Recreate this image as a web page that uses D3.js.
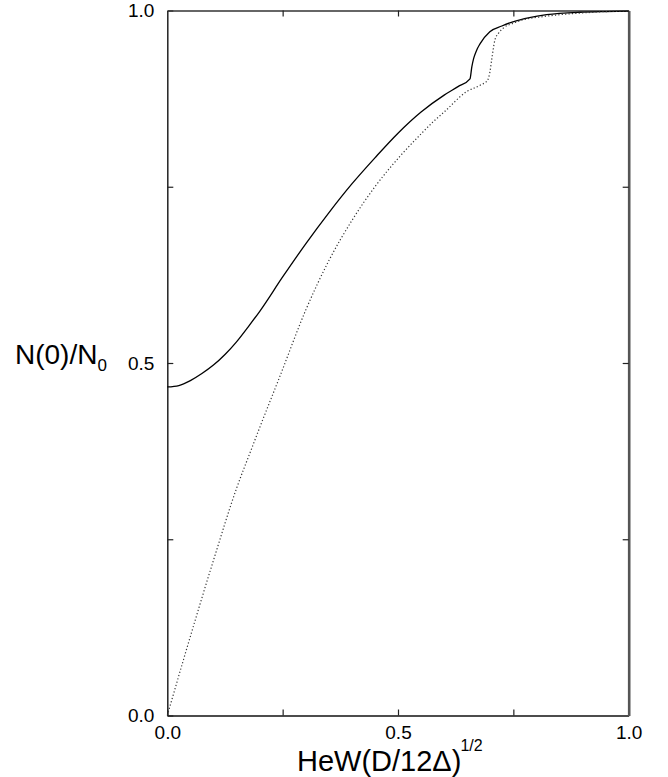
<!DOCTYPE html>
<html>
<head>
<meta charset="utf-8">
<script src="https://cdn.jsdelivr.net/npm/d3@7"></script>
<style>
  html, body { margin: 0; padding: 0; background: #fff; }
  svg { display: block; }
  text { font-family: "Liberation Sans", Arial, Helvetica, sans-serif; fill: #000; }
</style>
</head>
<body>
<script>
// Density of states at zero energy vs. scaled width — two curves.
const solidX = [0.000, 0.025, 0.050, 0.075, 0.100, 0.125, 0.150, 0.175, 0.200, 0.250, 0.300, 0.350, 0.400, 0.450, 0.500, 0.550, 0.600, 0.630, 0.656, 0.660, 0.664, 0.670, 0.678, 0.699, 0.725, 0.749, 0.785, 0.822, 0.894, 0.950, 1.000];
const solidY = [0.466, 0.468, 0.475, 0.485, 0.497, 0.512, 0.530, 0.551, 0.573, 0.622, 0.669, 0.713, 0.754, 0.791, 0.826, 0.856, 0.880, 0.892, 0.903, 0.920, 0.932, 0.943, 0.953, 0.970, 0.978, 0.984, 0.990, 0.994, 0.9975, 0.9985, 0.999];

const dottedX = [0.000, 0.035, 0.070, 0.100, 0.150, 0.183, 0.200, 0.244, 0.300, 0.350, 0.400, 0.450, 0.504, 0.550, 0.576, 0.600, 0.649, 0.678, 0.694, 0.699, 0.703, 0.710, 0.718, 0.728, 0.750, 0.772, 0.810, 0.858, 0.900, 0.952, 1.000];
const dottedY = [0.000, 0.079, 0.156, 0.220, 0.322, 0.379, 0.408, 0.481, 0.575, 0.645, 0.702, 0.750, 0.793, 0.825, 0.842, 0.856, 0.885, 0.894, 0.901, 0.912, 0.930, 0.958, 0.968, 0.975, 0.982, 0.987, 0.991, 0.9945, 0.9965, 0.9985, 0.999];

const tickValues = [0, 0.25, 0.5, 0.75, 1];
const tickLabels = ["0.0", "", "0.5", "", "1.0"];

const W = 668, H = 777;
const plot = { left: 167.3, right: 628.7, top: 10.5, bottom: 715.5 };

const svg = d3.select("body").append("svg")
  .attr("width", W).attr("height", H);

const x = d3.scaleLinear().domain([0, 1]).range([plot.left, plot.right]);
const y = d3.scaleLinear().domain([0, 1]).range([plot.bottom, plot.top]);

const fmt = v => tickLabels[tickValues.indexOf(v)];

// Axes: ticks point inward on all four sides
const gBottom = svg.append("g").attr("transform", `translate(0,${plot.bottom})`)
  .call(d3.axisBottom(x).tickValues(tickValues).tickFormat(fmt)
    .tickSizeInner(-6).tickSizeOuter(0).tickPadding(10.5));
const gLeft = svg.append("g").attr("transform", `translate(${plot.left},0)`)
  .call(d3.axisLeft(y).tickValues(tickValues).tickFormat(fmt)
    .tickSizeInner(-6).tickSizeOuter(0).tickPadding(13));
const gTop = svg.append("g").attr("transform", `translate(0,${plot.top})`)
  .call(d3.axisTop(x).tickValues(tickValues.slice(1, -1)).tickFormat("")
    .tickSizeInner(-6).tickSizeOuter(0));
const gRight = svg.append("g").attr("transform", `translate(${plot.right},0)`)
  .call(d3.axisRight(y).tickValues(tickValues.slice(1, -1)).tickFormat("")
    .tickSizeInner(-6).tickSizeOuter(0));

[gBottom, gLeft, gTop, gRight].forEach(g => {
  g.attr("font-size", null).attr("font-family", null);
  g.selectAll("text").style("font-size", "19px").attr("fill", "#000");
  g.selectAll(".tick line").attr("stroke", "#222").attr("stroke-width", 1.2);
});
gBottom.select(".domain").attr("stroke", "#111").attr("stroke-width", 1.6);
gLeft.select(".domain").attr("stroke", "#222").attr("stroke-width", 1.5);
gTop.select(".domain").attr("stroke", "#333").attr("stroke-width", 1.4);
gRight.select(".domain").attr("stroke", "#555").attr("stroke-width", 2.6);

const line = d3.line()
  .x(d => x(d[0]))
  .y(d => y(d[1]))
  .curve(d3.curveMonotoneX);

svg.append("path")
  .datum(solidX.map((v, i) => [v, solidY[i]]))
  .attr("fill", "none")
  .attr("stroke", "#000")
  .attr("stroke-width", 1.3)
  .attr("d", line);

svg.append("path")
  .datum(dottedX.map((v, i) => [v, dottedY[i]]))
  .attr("fill", "none")
  .attr("stroke", "#333")
  .attr("stroke-width", 1.2)
  .attr("stroke-dasharray", "1.2,2.2")
  .attr("d", line);

// Axis titles
const yTitle = svg.append("text")
  .attr("x", 15).attr("y", 364)
  .style("font-size", "28px");
yTitle.append("tspan").text("N(0)/N");
yTitle.append("tspan").attr("dy", 7).style("font-size", "17px").text("0");

const xTitle = svg.append("text")
  .attr("x", 297).attr("y", 771)
  .style("font-size", "29px");
xTitle.append("tspan").text("HeW(D/12\u0394)");
xTitle.append("tspan").attr("dx", -1).attr("dy", -20).style("font-size", "16px").text("1/2");
</script>
</body>
</html>
